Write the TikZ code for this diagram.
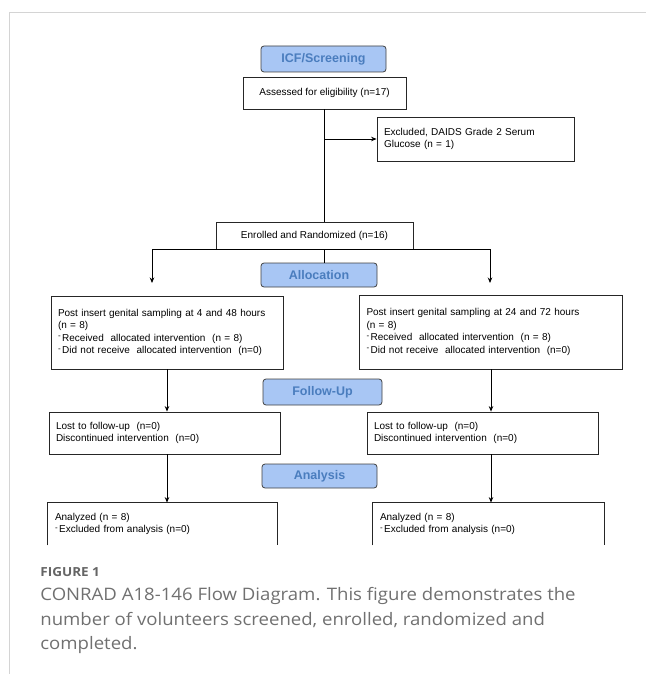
\documentclass[tikz,border=0pt]{standalone}
\usepackage{fontspec}
\setmainfont{Liberation Sans}
\newfontfamily\capfont[FakeStretch=1.08]{Open Sans}
\usepackage{xcolor}
\usepackage{tikz}
\usetikzlibrary{shapes,positioning,arrows.meta}
\definecolor{stagefill}{HTML}{A8C6F4}
\definecolor{stagetext}{HTML}{4A7DBE}
\definecolor{capgray}{HTML}{707070}
\definecolor{framegray}{HTML}{D4D4D4}
\tikzset{stage/.style={draw=black!75,rounded corners=3pt,fill=stagefill,text=stagetext,font=\fontsize{12.5}{14}\selectfont\bfseries,inner sep=0pt}}
\tikzset{cbox/.style={draw=black!85,inner sep=0pt,font=\fontsize{10}{12.5}\selectfont}}
\tikzset{lbox/.style={cbox,align=left,inner xsep=7pt,inner ysep=0pt}}
\tikzset{obox/.style={lbox,draw=none}}
\newcommand{\subdash}{\raisebox{0.5ex}{\fontsize{8}{8}\selectfont -}\hspace{1.5pt}}

\begin{document}
\begin{tikzpicture}[x=1pt,y=-1pt,>={Stealth[length=5.5pt,width=4.5pt]},line width=0.8pt]
    \useasboundingbox (0,0) rectangle (646,674);
    \draw [framegray,line width=1pt] (9.5,674) -- (9.5,12.5) -- (646,12.5);

    \node[stage,minimum width=125pt,minimum height=26pt] (icf) at (323.5,59) {ICF/Screening};
    \node[cbox,minimum width=163pt,minimum height=32pt] (assess) at (324.5,93) {Assessed for eligibility (n=17)};
    \node[lbox,text width=183pt,minimum height=44pt] (excl) at (475.5,139) {Excluded, DAIDS Grade 2 Serum\\Glucose (n = 1)};
    \node[cbox,minimum width=197pt,minimum height=27pt] (enrol) at (314.5,235.5) {Enrolled and Randomized (n=16)};
    \node[stage,minimum width=116pt,minimum height=24pt] (alloc) at (319,275) {Allocation};

    \node[lbox,text width=218pt,minimum height=73pt] (grpA) at (167,332.5) {Post insert genital sampling at 4 and 48 hours\\(n = 8)\\\subdash Received\ \ allocated intervention\ \ (n = 8)\\\subdash Did not receive\ \ allocated intervention\ \ (n=0)};
    \node[lbox,text width=249pt,minimum height=74pt] (grpB) at (491,332) {Post insert genital sampling at 24 and 72 hours\\(n = 8)\\\subdash Received\ \ allocated intervention\ \ (n = 8)\\\subdash Did not receive\ \ allocated intervention\ \ (n=0)};

    \node[stage,minimum width=119pt,minimum height=26pt] (fup) at (322.5,392) {Follow-Up};
    \node[lbox,text width=217pt,minimum height=42pt] (fupA) at (164.5,433) {Lost to follow-up\ \ (n=0)\\Discontinued intervention\ \ (n=0)};
    \node[lbox,text width=217pt,minimum height=42pt] (fupB) at (482.5,433) {Lost to follow-up\ \ (n=0)\\Discontinued intervention\ \ (n=0)};

    \node[stage,minimum width=115pt,minimum height=24pt] (ana) at (319.5,476) {Analysis};
    \node[obox,text width=215pt,minimum height=42pt] (anaA) at (162.5,524) {Analyzed (n = 8)\\\subdash Excluded from analysis (n=0)};
    \node[obox,text width=217pt,minimum height=42pt] (anaB) at (488.5,524) {Analyzed (n = 8)\\\subdash Excluded from analysis (n=0)};
    \draw [black!85] (anaA.south west) -- (anaA.north west) -- (anaA.north east) -- (anaA.south east);
    \draw [black!85] (anaB.south west) -- (anaB.north west) -- (anaB.north east) -- (anaB.south east);

    \coordinate (forkL) at (152,249);
    \coordinate (forkR) at (490,249);
    \coordinate (dropL) at (152,283);
    \coordinate (dropR) at (490,283);

    \draw [] (assess.south) to [] (assess.south |- enrol.north);
    \draw [->] (assess.south |- excl.west) to [] (excl.west);
    \draw [] (assess.south |- enrol.south) to [] (assess.south |- alloc.north);
    \draw [] (forkL) to [] (forkR);
    \draw [->] (forkL) to [] (dropL);
    \draw [->] (forkR) to [] (dropR);
    \draw [->] (grpA.south) to [] (grpA.south |- fupA.north);
    \draw [->] (grpB.south) to [] (grpB.south |- fupB.north);
    \draw [->] (grpA.south |- fupA.south) to [] (grpA.south |- anaA.north);
    \draw [->] (grpB.south |- fupB.south) to [] (grpB.south |- anaB.north);

    \node[anchor=west,inner sep=0pt,text=capgray!90!black,font=\capfont\fontsize{12.5}{14}\selectfont\bfseries] (fignum) at (40,572) {FIGURE 1};
    \node[anchor=north west,inner sep=0pt,align=left,text=capgray,font=\capfont\fontsize{17.2}{24.5}\selectfont] (figcap) at (40,587) {CONRAD A18-146 Flow Diagram. This figure demonstrates the\\number of volunteers screened, enrolled, randomized and\\completed.};
\end{tikzpicture}
\end{document}
